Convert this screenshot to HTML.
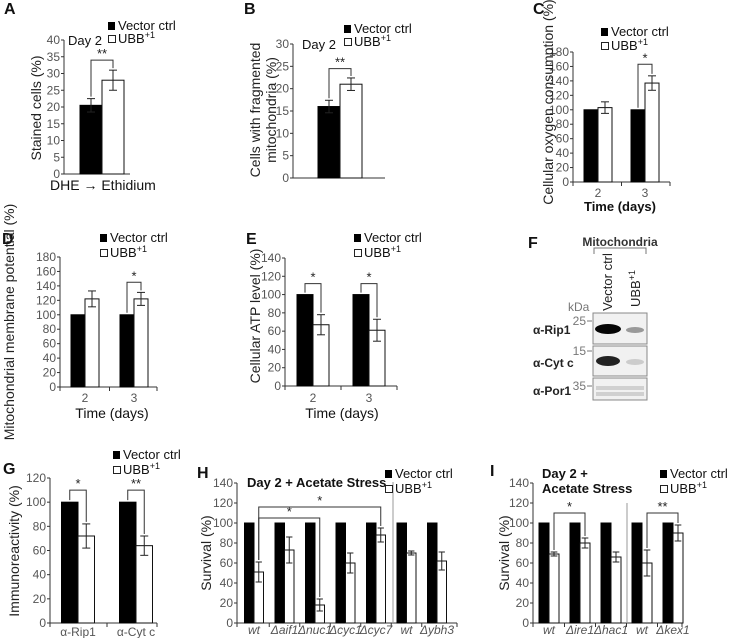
<!DOCTYPE html>
<html><head><meta charset="utf-8"><style>
html,body{margin:0;padding:0;background:#fff;}
svg{display:block;font-family:"Liberation Sans",sans-serif;}
.tick{font-size:12px;fill:#555;}
.nar{font-family:"Liberation Sans Narrow","Liberation Sans",sans-serif;}
.lg{font-size:13px;fill:#111;}
.pl{font-size:16px;font-weight:bold;fill:#111;}
</style></head><body>
<svg id="fig" width="729" height="638" viewBox="0 0 729 638">
<g id="root"></g>
</svg>
<script>
// ---- Data ----
const catsA=["DHE \u2192 Ethidium"]; const blackA=[20.5]; const blackErrA=[2]; const whiteA=[28]; const whiteErrA=[3]; const ticksA=[0,5,10,15,20,25,30,35,40];
const catsB=[""]; const blackB=[16]; const blackErrB=[1.4]; const whiteB=[21]; const whiteErrB=[1.4]; const ticksB=[0,5,10,15,20,25,30];
const catsC=["2","3"]; const blackC=[100,100]; const blackErrC=[0,0]; const whiteC=[103,137]; const whiteErrC=[8,10]; const ticksC=[0,20,40,60,80,100,120,140,160,180];
const catsD=["2","3"]; const blackD=[100,100]; const blackErrD=[0,0]; const whiteD=[122,122]; const whiteErrD=[11,9]; const ticksD=[0,20,40,60,80,100,120,140,160,180];
const catsE=["2","3"]; const blackE=[100,100]; const blackErrE=[0,0]; const whiteE=[67,61]; const whiteErrE=[11,12]; const ticksE=[0,20,40,60,80,100,120,140];
const catsG=["\u03b1-Rip1","\u03b1-Cyt c"]; const blackG=[100,100]; const blackErrG=[0,0]; const whiteG=[72,64]; const whiteErrG=[10,8]; const ticksG=[0,20,40,60,80,100,120];
const catsH=["wt","\u0394aif1","\u0394nuc1","\u0394cyc1","\u0394cyc7","wt","\u0394ybh3"]; const blackH=[100,100,100,100,100,100,100]; const blackErrH=[0,0,0,0,0,0,0]; const whiteH=[51,73,18,60,88,70,62]; const whiteErrH=[10,13,6,10,7,2,9]; const ticksH=[0,20,40,60,80,100,120,140];
const catsI=["wt","\u0394ire1","\u0394hac1","wt","\u0394kex1"]; const blackI=[100,100,100,100,100]; const blackErrI=[0,0,0,0,0]; const whiteI=[69,80,66,60,90]; const whiteErrI=[2,5,5,13,8]; const ticksI=[0,20,40,60,80,100,120,140];

const NS="http://www.w3.org/2000/svg";
const root=document.getElementById('root');
function el(tag,attrs,parent,text){const e=document.createElementNS(NS,tag);for(const k in attrs)e.setAttribute(k,attrs[k]);if(text!==undefined)e.textContent=text;(parent||root).appendChild(e);return e;}

function panel(id,L,cats,bv,be,wv,we,ticks,brackets){
  const g=el('g',{});
  
  
  const vmax=ticks[ticks.length-1];
  const y=v=>L.y0-v*(L.y0-L.yTop)/vmax;
  const cx=i=>L.c0+i*L.dx;
  const ya=el('line',{x1:L.ax,y1:L.y0,x2:L.ax,y2:L.yTop,stroke:'#333','stroke-width':1},g);
  
  
  ticks.forEach(t=>{
    el('line',{x1:L.ax-3,y1:y(t),x2:L.ax,y2:y(t),stroke:'#333'},g);
    const tl=el('text',{x:L.ax-4,y:y(t)+4,'text-anchor':'end',class:'tick'+(L.nar?' nar':''),'font-size':L.fs||12},g,String(t));
    
    
  });
  const xa=el('line',{x1:L.ax,y1:L.y0,x2:L.xEnd,y2:L.y0,stroke:'#333'},g);
  
  
  if(L.xticks){for(let i=0;i<=cats.length;i++){const xx=i===cats.length?L.xEnd:(i===0?L.ax:cx(i)-L.dx/2);el('line',{x1:xx,y1:L.y0,x2:xx,y2:L.y0+4,stroke:'#333'},g);}}
  cats.forEach((c,i)=>{
    const b=el('rect',{x:cx(i)-L.bw,y:y(bv[i]),width:L.bw,height:L.y0-y(bv[i]),fill:'#000',stroke:'#000'},g);
    
    
    const w=el('rect',{x:cx(i),y:y(wv[i]),width:L.bw,height:L.y0-y(wv[i]),fill:'#fff',stroke:'#111'},g);
    
    
    [[bv[i],be[i],cx(i)-L.bw/2],[wv[i],we[i],cx(i)+L.bw/2]].forEach(([v,e,x])=>{
      if(e>0){const cap=Math.min(4,L.bw/3);
        el('line',{x1:x,y1:y(v+e),x2:x,y2:y(v-e),stroke:'#222'},g);
        el('line',{x1:x-cap,y1:y(v+e),x2:x+cap,y2:y(v+e),stroke:'#222'},g);
        el('line',{x1:x-cap,y1:y(v-e),x2:x+cap,y2:y(v-e),stroke:'#222'},g);}
    });
    if(c!==''&&L.catY){
      const t=el('text',{x:cx(i),y:L.catY,'text-anchor':'middle',class:'tick'+(L.nar?' nar':''),'font-size':L.catFs||13,'fill':'#222','font-style':L.catItalic?'italic':'normal'},g,c);
      
      
    }
  });
  (brackets||[]).forEach(br=>{
    const x1=cx(br[0])+(br[1]==='w'?L.bw/2:-L.bw/2), x2=cx(br[2])+(br[3]==='w'?L.bw/2:-L.bw/2);
    const top1=br[1]==='w'?wv[br[0]]+we[br[0]]:bv[br[0]]+be[br[0]];
    const top2=br[3]==='w'?wv[br[2]]+we[br[2]]:bv[br[2]]+be[br[2]];
    const yb=y(br[4]);
    el('polyline',{points:`${x1},${y(top1)-2} ${x1},${yb} ${x2},${yb} ${x2},${y(top2)-2}`,fill:'none',stroke:'#333'},g);
    const s=el('text',{x:(x1+x2)/2,y:yb-2,'text-anchor':'middle','font-size':13,fill:'#222'},g,br[5]);
    
    
  });
  return g;
}
function legend(id,x,y1,y2){
  const g=el('g',{});
  
  
  el('rect',{x:x,y:y1-8,width:7,height:8,fill:'#000'},g);
  el('text',{x:x+10,y:y1,class:'lg'},g,'Vector ctrl');
  el('rect',{x:x+0.5,y:y2-7.5,width:7,height:7,fill:'#fff',stroke:'#222'},g);
  const t=el('text',{x:x+10,y:y2,class:'lg'},g,'UBB');
  el('tspan',{dy:-5,'font-size':9},t,'+1');
}
function txt(s,x,y,attrs,name){const a=Object.assign({x:x,y:y},attrs||{});const t=el('text',a,root,s);return t;}
function ytitle(lines,x,cy,fs){lines.forEach((s,i)=>{const t=el('text',{x:0,y:0,transform:`translate(${x+i*(fs+2)},${cy}) rotate(-90)`,'text-anchor':'middle','font-size':fs,fill:'#222'},root,s);});}

// A
panel('a',{ax:64,y0:174,yTop:40,xEnd:130,c0:102,dx:0,bw:22,fs:13},catsA,blackA,blackErrA,whiteA,whiteErrA,ticksA,[[0,'b',0,'w',34,'**']]);
txt('A',4,14,{class:'pl'},'panel-label-a');
txt('Day 2',68,45,{'font-size':13,fill:'#111'},'day-label-a');
legend('a',108,30,43);
ytitle(['Stained cells (%)'],41,108,14);
txt('DHE \u2192 Ethidium',50,190,{'font-size':14,fill:'#111'},'x-label-a');
// B
panel('b',{ax:293,y0:178,yTop:44,xEnd:385,c0:340,dx:0,bw:22,fs:13},catsB,blackB,blackErrB,whiteB,whiteErrB,ticksB,[[0,'b',0,'w',24.5,'**']]);
txt('B',244,14,{class:'pl'},'panel-label-b');
txt('Day 2',302,49,{'font-size':13,fill:'#111'},'day-label-b');
legend('b',344,33,46);
ytitle(['Cells with fragmented','mitochondria (%)'],260,110,14);
// C
panel('c',{ax:573,y0:182,yTop:52,xEnd:670,c0:598,dx:47,bw:14,fs:13,xticks:true,catY:197},catsC,blackC,blackErrC,whiteC,whiteErrC,ticksC,[[1,'b',1,'w',163,'*']]);
txt('C',533,14,{class:'pl'},'panel-label-c');
legend('c',601,36,50);
ytitle(['Cellular oxygen consumption (%)'],553,102,14);
txt('Time (days)',620,211,{'font-size':13,'text-anchor':'middle',fill:'#111','font-weight':'bold'},'x-axis-title-c');
// D
panel('d',{ax:60,y0:387,yTop:257,xEnd:157,c0:85,dx:49,bw:14,fs:14,nar:true,xticks:true,catY:402,catFs:14},catsD,blackD,blackErrD,whiteD,whiteErrD,ticksD,[[1,'b',1,'w',145,'*']]);
txt('D',2,244,{class:'pl'},'panel-label-d');
legend('d',100,242,257);
ytitle(['Mitochondrial membrane potential (%)'],14,322,14);
txt('Time (days)',112,418,{'font-size':14,'text-anchor':'middle',fill:'#111',class:'nar'},'x-axis-title-d');
// E
panel('e',{ax:285,y0:386,yTop:258,xEnd:397,c0:313,dx:56,bw:16,fs:14,nar:true,xticks:true,catY:402,catFs:14},catsE,blackE,blackErrE,whiteE,whiteErrE,ticksE,[[0,'b',0,'w',112,'*'],[1,'b',1,'w',112,'*']]);
txt('E',246,244,{class:'pl'},'panel-label-e');
legend('e',354,242,257);
ytitle(['Cellular ATP level (%)'],260,316,14);
txt('Time (days)',342,418,{'font-size':14,'text-anchor':'middle',fill:'#111',class:'nar'},'x-axis-title-e');
// F western blot
txt('F',528,248,{class:'pl'},'panel-label-f');
txt('Mitochondria',620,246,{'font-size':12,'text-anchor':'middle',fill:'#333','font-weight':'bold'},'mitochondria-label');
el('polyline',{points:'594,254 594,248 646,248 646,254',fill:'none',stroke:'#777'});
ytitle(['Vector ctrl'],612,282,13);
const ubbLane=el('text',{x:0,y:0,transform:'translate(640,307) rotate(-90)','font-size':13,fill:'#222'},root,'UBB');


el('tspan',{dy:-5,'font-size':9},ubbLane,'+1');
txt('kDa',568,311,{'font-size':12,fill:'#777'},'kda-label');
[[313,344,'\u03b1-Rip1','25',334,325],[346,376,'\u03b1-Cyt c','15',367,355],[378,400,'\u03b1-Por1','35',395,390]].forEach((r,i)=>{
  const b=el('rect',{x:593,y:r[0],width:54,height:r[1]-r[0],fill:'#f1f1f1',stroke:'#888'});
  
  
  txt(r[2],533,r[4],{'font-size':12,fill:'#222','font-weight':'bold'},'blot-label');
  txt(r[3],586,r[5],{'font-size':12,fill:'#777','text-anchor':'end'},'kda-marker');
  el('line',{x1:587,y1:r[5]-4,x2:592,y2:r[5]-4,stroke:'#777'});
});
el('ellipse',{cx:608,cy:329,rx:13,ry:5,fill:'#050505'});
el('ellipse',{cx:635,cy:330,rx:9,ry:3,fill:'#999'});
el('ellipse',{cx:608,cy:361,rx:12,ry:5,fill:'#222'});
el('ellipse',{cx:635,cy:362,rx:9,ry:3,fill:'#ccc'});
el('rect',{x:596,y:386,width:48,height:4,fill:'#d0d0d0'});
el('rect',{x:596,y:392,width:48,height:4,fill:'#d0d0d0'});
// G
panel('g',{ax:50,y0:623,yTop:478,xEnd:157,c0:78,dx:58,bw:16.5,nar:true,fs:14,xticks:true,catY:636,catFs:13},catsG,blackG,blackErrG,whiteG,whiteErrG,ticksG,[[0,'b',0,'w',110,'*'],[1,'b',1,'w',110,'**']]);
txt('G',3,474,{class:'pl'},'panel-label-g');
legend('g',113,459,474);
ytitle(['Immunoreactivity (%)'],19,551,14);
// H
panel('h',{ax:237,y0:623,yTop:483,xEnd:457,c0:254,dx:30.5,bw:9.5,nar:true,fs:14,xticks:true,catY:634,catFs:10,catItalic:true},catsH,blackH,blackErrH,whiteH,whiteErrH,ticksH,[[0,'w',2,'w',105,'*'],[0,'w',4,'w',116,'*']]);
el('line',{x1:393,y1:482,x2:393,y2:623,stroke:'#999'});
txt('H',197,478,{class:'pl'},'panel-label-h');
txt('Day 2 + Acetate Stress',247,487,{'font-size':13,fill:'#111','font-weight':'bold'},'title-h');
legend('h',385,478,493);
ytitle(['Survival (%)'],211,553,14);
// I
panel('i',{ax:533,y0:623,yTop:483,xEnd:682,c0:549,dx:31,bw:10,nar:true,fs:14,xticks:true,catY:634,catFs:10,catItalic:true},catsI,blackI,blackErrI,whiteI,whiteErrI,ticksI,[[0,'w',1,'w',110,'*'],[3,'w',4,'w',110,'**']]);
el('line',{x1:627,y1:503,x2:627,y2:623,stroke:'#999'});
txt('I',490,476,{class:'pl'},'panel-label-i');
txt('Day 2 +',542,478,{'font-size':13,fill:'#111','font-weight':'bold'},'title-i-1');
txt('Acetate Stress',542,493,{'font-size':13,fill:'#111','font-weight':'bold'},'title-i-2');
legend('i',660,478,493);
ytitle(['Survival (%)'],509,553,14);
</script>
</body></html>
